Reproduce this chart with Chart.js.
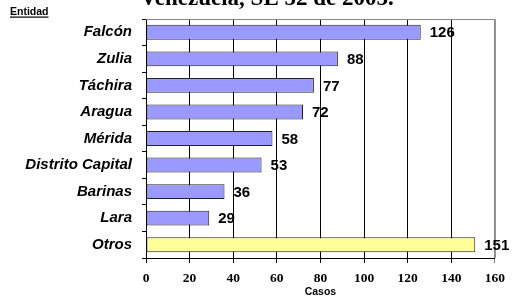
<!DOCTYPE html>
<html>
<head>
<meta charset="utf-8">
<script src="https://cdn.jsdelivr.net/npm/chart.js@4"></script>
<style>
  html, body { margin: 0; padding: 0; background: #fff; }
  canvas { display: block; }
</style>
</head>
<body>
<canvas id="grafico" width="512" height="297"></canvas>
<script>
// Datos del gráfico
const entidades = ['Falcón', 'Zulia', 'Táchira', 'Aragua', 'Mérida', 'Distrito Capital', 'Barinas', 'Lara', 'Otros'];
const casos = [126, 88, 77, 72, 58, 53, 36, 29, 151];
const coloresBarras = ['#9999FF', '#9999FF', '#9999FF', '#9999FF', '#9999FF', '#9999FF', '#9999FF', '#9999FF', '#FFFF99'];
const ticksCasos = [0, 20, 40, 60, 80, 100, 120, 140, 160];
const titulo = 'Venezuela, SE 52 de 2005.';

// Textos fijos: título cortado arriba, "Entidad", etiquetas de valores y borde gris
const textosExtra = {
    id: 'textosExtra',
    afterDatasetsDraw(chart) {
        const ctx = chart.ctx;
        const area = chart.chartArea;
        ctx.save();

        // borde gris arriba y a la derecha
        ctx.strokeStyle = '#888';
        ctx.lineWidth = 1;
        ctx.beginPath();
        ctx.moveTo(area.left, area.top + 0.5);
        ctx.lineTo(area.right + 0.5, area.top + 0.5);
        ctx.lineTo(area.right + 0.5, area.bottom);
        ctx.stroke();

        // valores al final de cada barra
        ctx.fillStyle = '#000';
        ctx.font = 'bold 15px "Liberation Sans", Arial, sans-serif';
        ctx.textAlign = 'left';
        ctx.textBaseline = 'middle';
        chart.getDatasetMeta(0).data.forEach((bar, i) => {
            ctx.fillText(casos[i], bar.x + 9, bar.y + 1);
        });

        // título (sólo se ve la parte de abajo)
        ctx.font = 'bold 23px "Liberation Serif", "Times New Roman", serif';
        ctx.textAlign = 'center';
        ctx.textBaseline = 'alphabetic';
        ctx.fillText(titulo, 267, 5);

        // "Entidad" subrayado
        ctx.font = 'bold 10.5px "Liberation Sans", Arial, sans-serif';
        ctx.textAlign = 'left';
        ctx.fillText('Entidad', 10, 15);
        const w = ctx.measureText('Entidad').width;
        ctx.fillRect(10, 16.5, w, 1.2);

        ctx.restore();
    }
};

new Chart(document.getElementById('grafico'), {
    type: 'bar',
    data: {
        labels: entidades,
        datasets: [{
            data: casos,
            backgroundColor: coloresBarras,
            borderColor: '#222',
            borderWidth: 1,
            borderSkipped: false,
            barPercentage: 0.56,
            categoryPercentage: 1
        }]
    },
    options: {
        indexAxis: 'y',
        responsive: false,
        animation: false,
        layout: { padding: { top: 15, right: 14, left: 0, bottom: 0 } },
        plugins: {
            legend: { display: false },
            tooltip: { enabled: false },
            title: { display: false }
        },
        scales: {
            x: {
                min: 0,
                max: 160,
                afterBuildTicks: axis => { axis.ticks = ticksCasos.map(v => ({ value: v })); },
                afterFit: axis => { axis.height = 39; },
                grid: {
                    color: c => (c.tick && c.tick.value === 160 ? '#888' : '#000'),
                    lineWidth: 1,
                    tickLength: 5
                },
                border: { color: '#000', width: 1 },
                ticks: {
                    color: '#000',
                    padding: 7,
                    maxRotation: 0,
                    font: { family: '"Liberation Serif", "Times New Roman", serif', size: 13.5, weight: 'bold' }
                },
                title: {
                    display: true,
                    text: 'Casos',
                    color: '#000',
                    padding: { top: 0, bottom: 0 },
                    font: { family: '"Liberation Sans", Arial, sans-serif', size: 10.5, weight: 'bold', lineHeight: 1 }
                }
            },
            y: {
                afterFit: axis => { axis.width = 146; },
                grid: {
                    drawOnChartArea: false,
                    color: '#000',
                    tickLength: 4,
                    offset: true
                },
                border: { color: '#000', width: 1 },
                ticks: {
                    color: '#000',
                    padding: 10,
                    font: { family: '"Liberation Sans", Arial, sans-serif', size: 15, weight: 'bold', style: 'italic' }
                }
            }
        }
    },
    plugins: [textosExtra]
});
</script>
</body>
</html>
